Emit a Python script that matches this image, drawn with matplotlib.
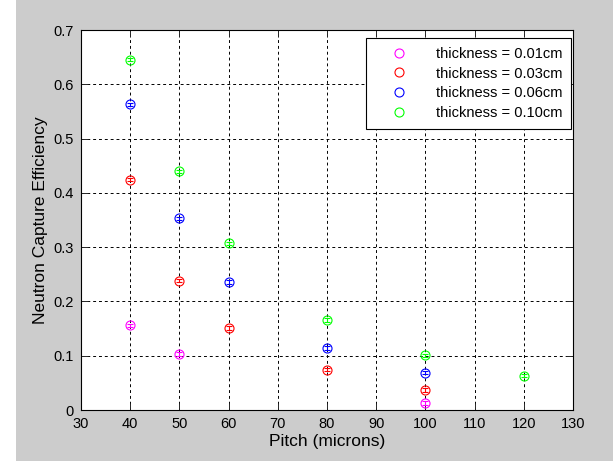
import matplotlib
matplotlib.use("Agg")
import matplotlib.pyplot as plt
from matplotlib.patches import Rectangle

plt.rcParams['font.family'] = ['Liberation Sans', 'DejaVu Sans']

# pitch values (microns) and efficiencies per thickness
pitch_001 = [40, 50, 100]
eff_001 = [0.156, 0.103, 0.013]

pitch_003 = [40, 50, 60, 80, 100]
eff_003 = [0.424, 0.238, 0.151, 0.074, 0.037]

pitch_006 = [40, 50, 60, 80, 100]
eff_006 = [0.563, 0.353, 0.236, 0.114, 0.069]

pitch_010 = [40, 50, 60, 80, 100, 120]
eff_010 = [0.645, 0.440, 0.307, 0.166, 0.101, 0.063]

labels = ["thickness = 0.01cm", "thickness = 0.03cm",
          "thickness = 0.06cm", "thickness = 0.10cm"]
colors = ["#ff00ff", "#ff0000", "#0000ff", "#00ff00"]

fig = plt.figure(figsize=(6.13, 4.61), dpi=100, facecolor="#cccccc")
fig.patches.append(Rectangle((0, 0), 16 / 613, 1, transform=fig.transFigure,
                             facecolor="white", edgecolor="none", zorder=0))
ax = fig.add_axes([81 / 613, 51 / 461, 492 / 613, 380 / 461])

series = [(pitch_001, eff_001), (pitch_003, eff_003),
          (pitch_006, eff_006), (pitch_010, eff_010)]
handles = []
for (x, y), c, lab in zip(series, colors, labels):
    ax.errorbar(x, y, yerr=0.003, fmt="none", ecolor=c, elinewidth=0.8,
                capsize=2.5, capthick=0.8, zorder=3)
    h, = ax.plot(x, y, "o", markersize=6.5, markerfacecolor="none",
                 markeredgecolor=c, markeredgewidth=0.8, label=lab, zorder=4)
    handles.append(h)

ax.set_xlim(30, 130)
ax.set_ylim(0, 0.7)
ax.set_xticks(range(30, 131, 10))
ax.set_yticks([0, 0.1, 0.2, 0.3, 0.4, 0.5, 0.6, 0.7])
ax.set_yticklabels(["0", "0.1", "0.2", "0.3", "0.4", "0.5", "0.6", "0.7"])
ax.grid(True, color="black", linestyle=(0, (3, 3)), linewidth=0.7)
ax.tick_params(direction="in", top=True, right=True, labelsize=10.5, length=5,
               width=0.7, colors="#262626", labelcolor="black", pad=5)
for s in ax.spines.values():
    s.set_linewidth(0.8)
ax.set_xlabel("Pitch (microns)", fontsize=12.5, labelpad=2)
ax.set_ylabel("Neutron Capture Efficiency", fontsize=12.5, labelpad=4)

leg = ax.legend(handles=handles, loc="upper right", fontsize=10.5,
                bbox_to_anchor=(571 / 613, 423 / 461),
                bbox_transform=fig.transFigure, borderaxespad=0,
                fancybox=False, edgecolor="black", framealpha=1,
                handletextpad=0.9, handlelength=3.3, borderpad=0.6,
                labelspacing=0.4)
leg.get_frame().set_linewidth(0.8)

fig.savefig("out.png", dpi=100, facecolor=fig.get_facecolor())
